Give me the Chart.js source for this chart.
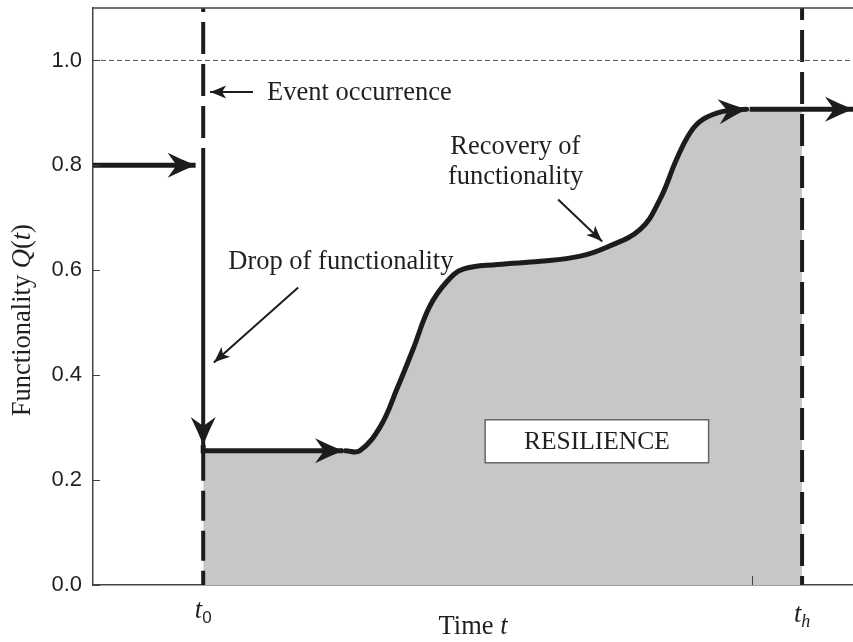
<!DOCTYPE html>
<html>
<head>
<meta charset="utf-8">
<script src="https://cdn.jsdelivr.net/npm/chart.js@4.4.1/dist/chart.umd.min.js"></script>
<style>
  body { margin: 0; background: #fff; }
  #wrap { width: 853px; height: 642px; position: relative; }
</style>
</head>
<body>
<div id="wrap"><canvas id="resChart"></canvas></div>
<script>
// time axis runs 0..10 (arbitrary units), functionality 0..1.1
let t0 = 1.45;
let th = 9.33;
let yTicks = [0.0, 0.2, 0.4, 0.6, 0.8, 1.0];
let xMinorTicks = [8.67];

let startLevel = 0.8;
let dropTop = 0.818;
let dropArrowTip = 0.267;
let lowLevel = 0.256;
let lowArrowEnd = 3.29;
let endLevel = 0.907;
let endLineStart = 8.64;

let recoveryT = [3.32, 3.51, 3.78, 4.0, 4.21, 4.43, 4.66, 4.87, 5.32, 5.88, 6.41, 6.76, 7.2, 7.46, 7.68, 7.86, 8.03, 8.29, 8.6];
let recoveryQ = [0.256, 0.256, 0.302, 0.374, 0.449, 0.531, 0.579, 0.602, 0.611, 0.617, 0.627, 0.644, 0.678, 0.735, 0.812, 0.863, 0.888, 0.903, 0.907];

let ink = '#1e1b1c';
let serif = '"Liberation Serif", "Times New Roman", serif';
let sans = '"Liberation Sans", Arial, sans-serif';

let recoveryPts = recoveryT.map((t, i) => ({x: t, y: recoveryQ[i]}));
let fillPts = [{x: t0, y: lowLevel}].concat(recoveryPts, [{x: th, y: endLevel}]);

function seg(points, width, extra) {
    return Object.assign({
        data: points,
        borderColor: ink,
        borderWidth: width,
        pointRadius: 0,
        fill: false,
        tension: 0,
        borderCapStyle: 'butt',
        borderJoinStyle: 'miter',
        order: 1
    }, extra || {});
}

let datasets = [
    // shaded resilience area
    {
        data: fillPts,
        borderWidth: 0,
        borderColor: 'rgba(0,0,0,0)',
        backgroundColor: '#c6c7c9',
        fill: 'origin',
        pointRadius: 0,
        tension: 0.4,
        order: 10
    },
    // reference level 1.0
    seg([{x: 0, y: 1.0}, {x: 10, y: 1.0}], 1, {borderColor: '#555', borderDash: [5, 3]}),
    // dashed event / horizon lines
    seg([{x: t0, y: 1.1}, {x: t0, y: dropTop}], 4, {borderDash: [32, 10], borderDashOffset: 28}),
    seg([{x: t0, y: lowLevel}, {x: t0, y: 0}], 4, {borderDash: [30, 10]}),
    seg([{x: th, y: 1.1}, {x: th, y: 0}], 4, {borderDash: [32, 10], borderDashOffset: 20}),
    // functionality path
    seg([{x: 0, y: startLevel}, {x: t0 - 0.1, y: startLevel}], 5, {arrow: 'big'}),
    seg([{x: t0, y: dropTop}, {x: t0, y: dropArrowTip}], 4, {arrow: 'big'}),
    seg([{x: t0, y: dropArrowTip}, {x: t0, y: lowLevel}, {x: lowArrowEnd, y: lowLevel}], 5, {arrow: 'big'}),
    seg(recoveryPts, 5, {tension: 0.4, arrow: 'big', borderCapStyle: 'round'}),
    seg([{x: endLineStart, y: endLevel}, {x: 10, y: endLevel}], 5, {arrow: 'big'}),
    // annotation pointers
    seg([{x: 2.105, y: 0.94}, {x: 1.54, y: 0.94}], 2, {arrow: 'small'}),
    seg([{x: 2.70, y: 0.567}, {x: 1.59, y: 0.424}], 2, {arrow: 'small'}),
    seg([{x: 6.12, y: 0.735}, {x: 6.70, y: 0.655}], 2, {arrow: 'small'})
];

function arrowHead(ctx, x, y, ang, len, half, notch) {
    ctx.save();
    ctx.translate(x, y);
    ctx.rotate(ang);
    ctx.beginPath();
    ctx.moveTo(0, 0);
    ctx.quadraticCurveTo(-len * 0.5, -half * 0.45, -len, -half);
    ctx.lineTo(-len + notch, 0);
    ctx.lineTo(-len, half);
    ctx.quadraticCurveTo(-len * 0.5, half * 0.45, 0, 0);
    ctx.closePath();
    ctx.fillStyle = ink;
    ctx.fill();
    ctx.restore();
}

function richText(ctx, parts, x, y, align) {
    // parts: [text, font, dy]
    let total = 0;
    parts.forEach(p => { ctx.font = p[1]; total += ctx.measureText(p[0]).width; });
    let cx = align === 'center' ? x - total / 2 : x;
    parts.forEach(p => {
        ctx.font = p[1];
        ctx.fillText(p[0], cx, y + (p[2] || 0));
        cx += ctx.measureText(p[0]).width;
    });
}

let decorPlugin = {
    id: 'decor',
    afterDatasetsDraw(chart) {
        let ctx = chart.ctx;
        let xs = chart.scales.x;
        let ys = chart.scales.y;
        let area = chart.chartArea;

        // arrow heads at the end of flagged datasets
        chart.data.datasets.forEach((ds, i) => {
            if (!ds.arrow) return;
            let pts = chart.getDatasetMeta(i).data;
            let a = pts[pts.length - 2], b = pts[pts.length - 1];
            let ang = Math.atan2(b.y - a.y, b.x - a.x);
            if (ds.arrow === 'big') arrowHead(ctx, b.x, b.y, ang, 28, 12.5, 9);
            else arrowHead(ctx, b.x, b.y, ang, 16, 6.5, 4);
        });

        ctx.save();
        // frame: top border and inner ticks
        ctx.strokeStyle = '#444';
        ctx.lineWidth = 1.5;
        ctx.beginPath();
        ctx.moveTo(area.left, area.top);
        ctx.lineTo(area.right, area.top);
        ctx.stroke();
        ctx.lineWidth = 1;
        yTicks.forEach(v => {
            let py = Math.round(ys.getPixelForValue(v)) + 0.5;
            ctx.beginPath();
            ctx.moveTo(area.left, py);
            ctx.lineTo(area.left + 7, py);
            ctx.stroke();
        });
        xMinorTicks.forEach(v => {
            let px = Math.round(xs.getPixelForValue(v)) + 0.5;
            ctx.beginPath();
            ctx.moveTo(px, area.bottom);
            ctx.lineTo(px, area.bottom - 9);
            ctx.stroke();
        });

        // RESILIENCE box
        let bx = xs.getPixelForValue(5.16), bx2 = xs.getPixelForValue(8.1);
        let by = ys.getPixelForValue(0.315), by2 = ys.getPixelForValue(0.233);
        ctx.fillStyle = '#fff';
        ctx.fillRect(bx, by, bx2 - bx, by2 - by);
        ctx.strokeStyle = '#666';
        ctx.lineWidth = 1.5;
        ctx.strokeRect(bx, by, bx2 - bx, by2 - by);

        ctx.fillStyle = '#231f20';
        ctx.textBaseline = 'middle';
        ctx.textAlign = 'left';
        let f = '26.5px ' + serif;
        let fi = 'italic 26.5px ' + serif;
        let fs = '17px ' + sans;
        let fsi = 'italic 18px ' + serif;
        ctx.font = '25.5px ' + serif;
        ctx.textAlign = 'center';
        ctx.fillText('RESILIENCE', (bx + bx2) / 2, (by + by2) / 2 + 1);
        ctx.textAlign = 'left';
        ctx.font = f;
        ctx.fillText('Event occurrence', xs.getPixelForValue(2.29), ys.getPixelForValue(0.937));
        ctx.fillText('Drop of functionality', xs.getPixelForValue(1.78), ys.getPixelForValue(0.615));
        ctx.fillText('Recovery of', xs.getPixelForValue(4.7), ys.getPixelForValue(0.835));
        ctx.fillText('functionality', xs.getPixelForValue(4.67), ys.getPixelForValue(0.777));

        // x labels
        richText(ctx, [['t', fi], ['0', fs, 7]], xs.getPixelForValue(t0), area.bottom + 26, 'center');
        richText(ctx, [['t', fi], ['h', fsi, 7]], xs.getPixelForValue(th), area.bottom + 30, 'center');
        richText(ctx, [['Time ', f], ['t', fi]], (area.left + area.right) / 2, area.bottom + 42, 'center');

        // y title
        ctx.save();
        ctx.translate(23, ys.getPixelForValue(0.505));
        ctx.rotate(-Math.PI / 2);
        richText(ctx, [['Functionality ', f], ['Q', fi], ['(', f], ['t', fi], [')', f]], 0, 0, 'center');
        ctx.restore();
        ctx.restore();
    }
};

let chart = new Chart(document.getElementById('resChart'), {
    type: 'line',
    data: {datasets: datasets},
    options: {
        responsive: true,
        maintainAspectRatio: false,
        animation: false,
        layout: {padding: {top: 8, right: 0, bottom: 0, left: 0}},
        plugins: {legend: {display: false}, tooltip: {enabled: false}},
        scales: {
            x: {
                type: 'linear',
                min: 0,
                max: 10,
                grid: {display: false},
                border: {display: true, color: '#444', width: 1.5},
                ticks: {display: false},
                afterFit: s => { s.height = 57; s.paddingLeft = 0; s.paddingRight = 0; }
            },
            y: {
                type: 'linear',
                min: 0,
                max: 1.1,
                grid: {display: false, drawTicks: false},
                border: {display: true, color: '#444', width: 1.5},
                afterBuildTicks: s => { s.ticks = yTicks.map(v => ({value: v})); },
                ticks: {
                    padding: 11,
                    color: '#231f20',
                    font: {family: sans, size: 22},
                    callback: v => v.toFixed(1)
                },
                afterFit: s => { s.width = 93; s.paddingTop = 0; s.paddingBottom = 0; }
            }
        }
    },
    plugins: [decorPlugin]
});
</script>
</body>
</html>
